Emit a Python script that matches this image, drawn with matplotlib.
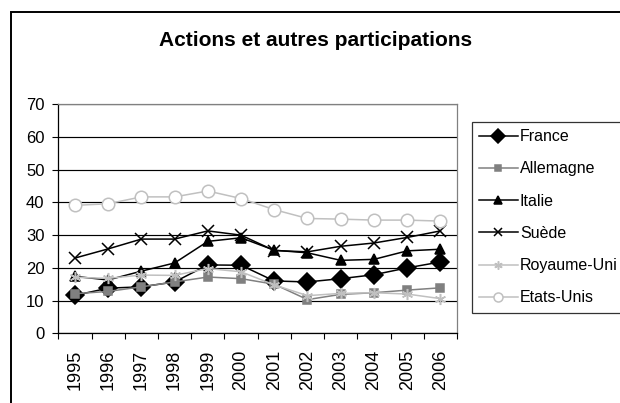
import matplotlib
matplotlib.use("Agg")
import matplotlib.pyplot as plt
from matplotlib.patches import Rectangle
import numpy as np

plt.rcParams['font.family'] = ['Liberation Sans', 'DejaVu Sans']

# Values (% of total)
years = ['1995', '1996', '1997', '1998', '1999', '2000',
         '2001', '2002', '2003', '2004', '2005', '2006']
france = [11.6, 13.8, 14.2, 15.7, 20.9, 20.8, 16.0, 15.7, 16.7, 17.9, 20.0, 21.8]
allemagne = [12.1, 12.8, 14.2, 15.7, 17.2, 16.7, 15.0, 10.3, 11.9, 12.4, 13.2, 13.9]
italie = [17.4, 16.3, 19.0, 21.5, 28.1, 29.2, 25.4, 24.6, 22.3, 22.6, 25.2, 25.7]
suede = [23.0, 25.8, 28.8, 28.8, 31.3, 30.0, 25.3, 24.9, 26.6, 27.6, 29.3, 31.3]
royaume_uni = [17.1, 16.8, 17.8, 17.7, 19.8, 18.8, 14.8, 11.5, 12.2, 12.4, 12.0, 10.6]
etats_unis = [39.1, 39.6, 41.7, 41.7, 43.5, 41.2, 37.8, 35.1, 34.9, 34.6, 34.6, 34.3]

series_names = ['France', 'Allemagne', 'Italie', 'Suède', 'Royaume-Uni', 'Etats-Unis']
y_ticks = [0, 10, 20, 30, 40, 50, 60, 70]

GRAY = '#808080'
LIGHT = '#c0c0c0'

# (color, marker, size, facecolor, legend marker size)
styles = [
    ('black', 'D', 9.5, 'black', 7),
    (GRAY, 's', 5.5, GRAY, 4.5),
    ('black', '^', 7, 'black', 5.5),
    ('black', 'x', 8, 'black', 6),
    (LIGHT, (6, 2, 0), 8, LIGHT, 6),
    (LIGHT, 'o', 9, 'white', 6.5),
]

fig = plt.figure(figsize=(6.2, 4.03), dpi=100)
ax = fig.add_axes([58.3 / 620, 1 - 333.3 / 403, 398.7 / 620, 229 / 403])

x = np.arange(len(years))
all_series = [france, allemagne, italie, suede, royaume_uni, etats_unis]
lines = []
for name, vals, (col, mk, ms, fc, _) in zip(series_names, all_series, styles):
    ln, = ax.plot(x, vals, color=col, lw=1.1, marker=mk, markersize=ms,
                  markerfacecolor=fc, markeredgecolor=col, markeredgewidth=1.1,
                  label=name, clip_on=False)
    lines.append(ln)

ax.set_xlim(-0.5, len(years) - 0.5)
ax.set_ylim(0, 70)

# gridlines
ax.set_yticks(y_ticks)
ax.yaxis.grid(True, color='black', lw=0.85)
ax.set_axisbelow(True)

ax.spines['left'].set_color('black')
ax.spines['bottom'].set_color('black')
ax.spines['top'].set_color(GRAY)
ax.spines['right'].set_color(GRAY)
for s in ax.spines.values():
    s.set_linewidth(0.9)

ax.tick_params(axis='y', direction='out', length=4, width=0.8, pad=6, labelsize=12)

# labels at category centres, ticks at category boundaries
ax.set_xticks(x)
ax.set_xticklabels(years, rotation=90, fontsize=13)
ax.set_xticks(np.arange(-0.5, len(years)), minor=True)
ax.tick_params(axis='x', which='major', length=0, pad=12)
ax.tick_params(axis='x', which='minor', direction='out', length=4.3, width=0.8)

fig.text(316 / 620, 1 - 41 / 403, 'Actions et autres participations',
         ha='center', va='center', fontsize=15, fontweight='bold')

leg = fig.legend(handles=lines, loc='upper left',
                 bbox_to_anchor=(471.7 / 620, 1 - 121.7 / 403),
                 fontsize=11.5, frameon=True, fancybox=False, shadow=False,
                 handlelength=2.4, handletextpad=0.15, labelspacing=1.08,
                 borderpad=0.47, borderaxespad=0)
leg.get_frame().set_edgecolor('black')
leg.get_frame().set_linewidth(0.9)
for h, st in zip(leg.legend_handles, styles):
    h.set_markersize(st[4])

# outer chart border (runs off the right and bottom edges)
fig.patches.append(Rectangle((11 / 620, -0.2), 1.2, 1.2 - 12 / 403,
                             transform=fig.transFigure, fill=False,
                             ec='black', lw=1.4))

fig.savefig('out.png', dpi=100)
